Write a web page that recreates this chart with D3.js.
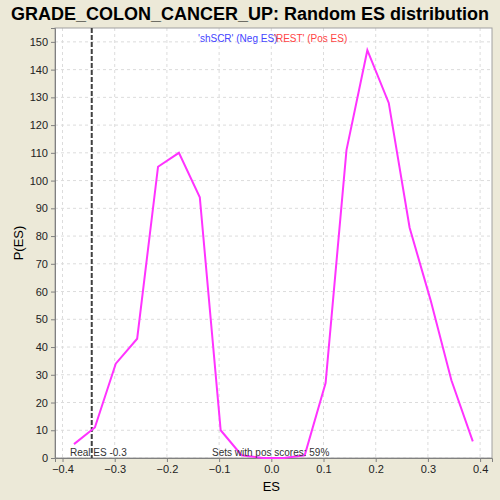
<!DOCTYPE html>
<html>
<head>
<meta charset="utf-8">
<script src="https://cdn.jsdelivr.net/npm/d3@7"></script>
<style>
  body { margin: 0; background: #ece9d8; }
  text { font-family: "Liberation Sans", Arial, sans-serif; }
</style>
</head>
<body>
<div class="container"></div>
<script>
const esValues = [-0.378, -0.338, -0.298, -0.257, -0.217, -0.177, -0.137, -0.097, -0.057, -0.016,
                  0.024, 0.064, 0.104, 0.144, 0.184, 0.225, 0.265, 0.305, 0.345, 0.386];
const pValues = [5, 11, 34, 43, 105, 110, 94, 10, 1, 0,
                 0, 1, 27, 111, 147, 128, 83, 57, 28, 6];
const xTicks = [-0.4, -0.3, -0.2, -0.1, 0.0, 0.1, 0.2, 0.3, 0.4];
const yTicks = [0, 10, 20, 30, 40, 50, 60, 70, 80, 90, 100, 110, 120, 130, 140, 150];
const realES = -0.344;

const width = 500;
const height = 500;
const margin = {top: 28, right: 8, bottom: 42, left: 55};

const svg = d3.select('.container')
                .append('svg')
                .attr('width', width)
                .attr('height', height);

svg.append('rect')
    .attr('width', width)
    .attr('height', height)
    .attr('fill', '#ece9d8');

const x = d3.scaleLinear()
            .domain([-0.4144, 0.4228])
            .range([margin.left, width - margin.right]);

const y = d3.scaleLinear()
            .domain([0, 155])
            .range([height - margin.bottom, margin.top]);

// plot background
svg.append('rect')
    .attr('x', margin.left)
    .attr('y', margin.top)
    .attr('width', width - margin.left - margin.right)
    .attr('height', height - margin.top - margin.bottom)
    .attr('fill', 'white');

// grid
svg.append('g')
    .selectAll('line')
    .data(xTicks)
    .enter()
    .append('line')
    .attr('x1', d => x(d)).attr('x2', d => x(d))
    .attr('y1', margin.top).attr('y2', height - margin.bottom)
    .attr('stroke', '#dcdcdc')
    .attr('stroke-dasharray', '3,3');

svg.append('g')
    .selectAll('line')
    .data(yTicks)
    .enter()
    .append('line')
    .attr('x1', margin.left).attr('x2', width - margin.right)
    .attr('y1', d => y(d)).attr('y2', d => y(d))
    .attr('stroke', '#dcdcdc')
    .attr('stroke-dasharray', '3,3');

// border
svg.append('rect')
    .attr('x', margin.left)
    .attr('y', margin.top)
    .attr('width', width - margin.left - margin.right)
    .attr('height', height - margin.top - margin.bottom)
    .attr('fill', 'none')
    .attr('stroke', '#a0a0a0');

// axes
const xAxis = svg.append('g')
    .attr('transform', `translate(0,${height - margin.bottom})`)
    .call(d3.axisBottom(x).tickValues(xTicks).tickFormat(d3.format('.1f')).tickSize(4).tickPadding(3));

const yAxis = svg.append('g')
    .attr('transform', `translate(${margin.left},0)`)
    .call(d3.axisLeft(y).tickValues(yTicks).tickSize(4).tickPadding(3));

[xAxis, yAxis].forEach(g => {
    g.select('.domain').attr('stroke', '#808080');
    g.selectAll('.tick line').attr('stroke', '#808080');
    g.selectAll('.tick text')
        .attr('fill', '#222')
        .style('font-size', '11px')
        .style('font-family', '"Liberation Sans", Arial, sans-serif');
});

// real ES line
svg.append('line')
    .attr('x1', x(realES)).attr('x2', x(realES))
    .attr('y1', margin.top).attr('y2', height - margin.bottom)
    .attr('stroke', '#404040')
    .attr('stroke-width', 2)
    .attr('stroke-dasharray', '5,2');

// distribution
const line = d3.line()
               .x((d, i) => x(esValues[i]))
               .y(d => y(d));

svg.append('path')
    .datum(pValues)
    .attr('d', line)
    .attr('fill', 'none')
    .attr('stroke', '#ff33ff')
    .attr('stroke-width', 2);

// texts
svg.append('text')
    .attr('x', 250)
    .attr('y', 20)
    .attr('text-anchor', 'middle')
    .attr('textLength', 478)
    .attr('lengthAdjust', 'spacingAndGlyphs')
    .style('font-size', '18px')
    .style('font-weight', 'bold')
    .text('GRADE_COLON_CANCER_UP: Random ES distribution');

svg.append('text')
    .attr('x', 198)
    .attr('y', 42)
    .attr('fill', '#4444ff')
    .style('font-size', '10px')
    .text("'shSCR' (Neg ES)");

svg.append('text')
    .attr('x', 274)
    .attr('y', 42)
    .attr('fill', '#ff4444')
    .style('font-size', '10px')
    .text("'REST' (Pos ES)");

svg.append('text')
    .attr('x', 70)
    .attr('y', 456)
    .attr('fill', '#333')
    .style('font-size', '10px')
    .text('Real ES -0.3');

svg.append('text')
    .attr('x', 212)
    .attr('y', 456)
    .attr('fill', '#333')
    .style('font-size', '10px')
    .text('Sets with pos scores: 59%');

svg.append('text')
    .attr('x', x(0))
    .attr('y', 491)
    .attr('text-anchor', 'middle')
    .style('font-size', '13px')
    .text('ES');

svg.append('text')
    .attr('transform', 'translate(23,243) rotate(-90)')
    .attr('text-anchor', 'middle')
    .style('font-size', '13px')
    .text('P(ES)');
</script>
</body>
</html>
